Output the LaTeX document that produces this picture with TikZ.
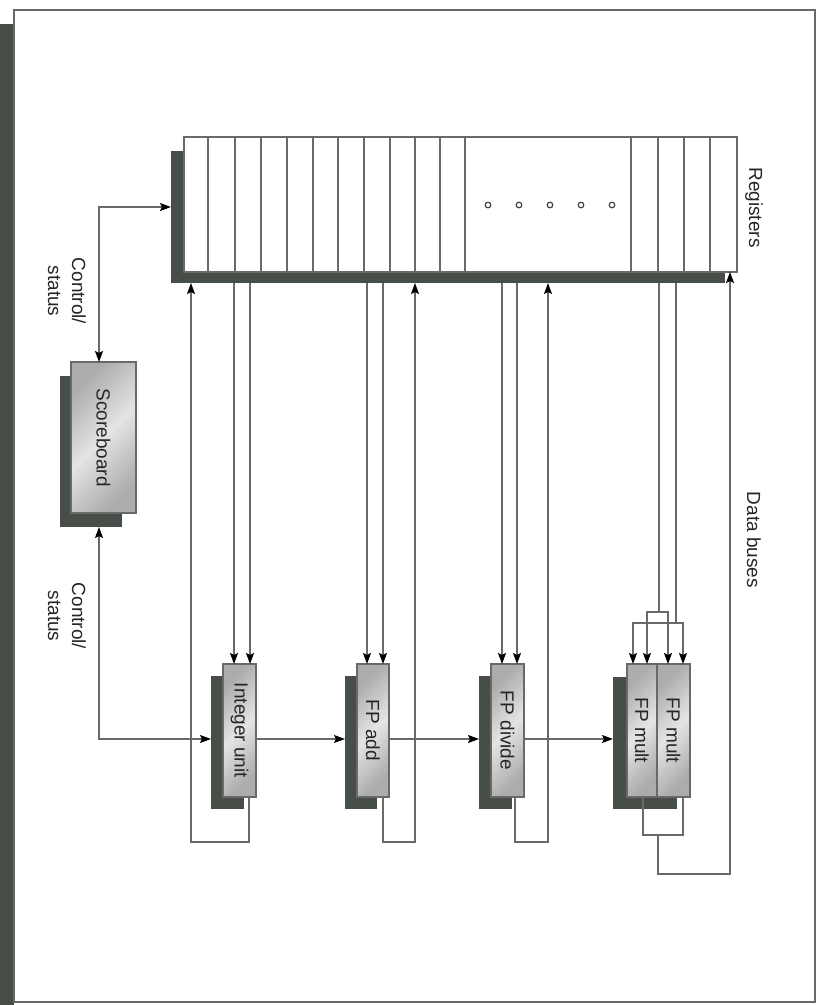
\documentclass[tikz,border=0pt]{standalone}
\usepackage{fontspec}
\setmainfont{Liberation Sans}
\usetikzlibrary{arrows.meta,calc}
\definecolor{shadowc}{RGB}{71,77,71}
\definecolor{linec}{RGB}{105,105,105}
\definecolor{boxdark}{RGB}{172,172,172}
\definecolor{boxlight}{RGB}{228,228,228}
\tikzset{
  ln/.style={draw=linec, line width=1.3pt},
  tipa/.tip={Stealth[length=11pt,width=8pt,inset=2pt,color=black]},
  arr/.style={ln, -tipa},
  arrb/.style={ln, tipa-tipa},
  unitbox/.style={draw=linec, line width=1.2pt, top color=boxdark, bottom color=boxdark,
    middle color=boxlight, shading angle=45, minimum height=133pt, inner sep=0pt, outer sep=0pt},
  shbox/.style={fill=shadowc, draw=none, inner sep=0pt, outer sep=0pt},
  vtext/.style={rotate=-90, font=\fontsize{19}{24}\selectfont, text=black!85, inner sep=0pt, align=center},
}
\begin{document}
\begin{tikzpicture}[x=1pt,y=-1pt]
\useasboundingbox (0,0) rectangle (819,1005);
% frame
\node[shbox, minimum width=14pt, minimum height=981pt] (framesh) at (7,514.5) {};
\node[draw=linec, line width=1.2pt, fill=white, minimum width=801pt, minimum height=992pt, inner sep=0pt] (frame) at (414.5,506) {};
% registers
\node[shbox, minimum width=554pt, minimum height=132pt] (regsh) at (448,217) {};
\node[draw=linec, line width=1.2pt, fill=white, minimum width=553pt, minimum height=135pt, inner sep=0pt, outer sep=0pt] (reg) at (460.5,204.5) {};
\foreach \x in {208,235,261,287,313,338,364,390,415,440,465,631,658,684,710}
  \draw[draw=linec, line width=1.1pt] (\x,137) -- (\x,272);
\foreach \x in {488,519,550,581,612}
  \draw[draw=black!75, line width=1.2pt] (\x,205) circle (2.8pt);
% scoreboard
\node[shbox, minimum width=62pt, minimum height=151pt] (sbsh) at (91,451.5) {};
\node[unitbox, minimum width=65pt, minimum height=151pt] (sb) at (103.5,437.5) {};
\node[vtext] (sbt) at (sb.center) {Scoreboard};
% units
\node[shbox, minimum width=33pt, minimum height=133pt] (iush) at (227.5,742.5) {};
\node[unitbox, minimum width=33pt] (iu) at (239.5,730.5) {};
\node[vtext] (iut) at (iu.center) {Integer unit};
\node[shbox, minimum width=32pt, minimum height=133pt] (fash) at (361,742.5) {};
\node[unitbox, minimum width=32pt] (fa) at (373,730.5) {};
\node[vtext] (fat) at (fa.center) {FP add};
\node[shbox, minimum width=33pt, minimum height=133pt] (fdsh) at (495.5,742.5) {};
\node[unitbox, minimum width=33pt] (fd) at (507.5,730.5) {};
\node[vtext] (fdt) at (fd.center) {FP divide};
\node[shbox, minimum width=64pt, minimum height=132pt] (fmsh) at (645,743) {};
\node[unitbox, minimum width=30pt] (fm1) at (642,730.5) {};
\node[unitbox, minimum width=33pt] (fm2) at (673.5,730.5) {};
\node[vtext] (fm1t) at (fm1.center) {FP mult};
\node[vtext] (fm2t) at (fm2.center) {FP mult};
% labels
\node[vtext] (lreg) at (754,207.5) {Registers};
\node[vtext] (lbus) at (754,540) {Data buses};
\node[vtext] (lcs1) at (67,291) {Control/\\status};
\node[vtext] (lcs2) at (67,616) {Control/\\status};
% control lines
\draw[arrb] ([xshift=-4.5pt]sb.north) |- ([yshift=10pt]regsh.west);
\draw[arrb] ([xshift=8pt]sbsh.south) |- ([yshift=3.5pt]iush.west);
\coordinate (cy) at (0,739);
\draw[arr] (iu.east |- cy) -- (fash.west |- cy);
\draw[arr] (fa.east |- cy) -- (fdsh.west |- cy);
\draw[arr] (fd.east |- cy) -- (fmsh.west |- cy);
% buses: integer unit
\coordinate (iuA) at ([xshift=11pt]iu.north west);
\coordinate (iuB) at ([xshift=27pt]iu.north west);
\draw[arr] (iuA |- regsh.south) -- (iuA);
\draw[arr] (iuB |- regsh.south) -- (iuB);
\coordinate (iuL) at (191,842);
\draw[arr] ([xshift=26pt]iu.south west) |- (iuL) -- (iuL |- regsh.south);
% FP add
\coordinate (faA) at ([xshift=10pt]fa.north west);
\coordinate (faB) at ([xshift=26pt]fa.north west);
\draw[arr] (faA |- regsh.south) -- (faA);
\draw[arr] (faB |- regsh.south) -- (faB);
\coordinate (faL) at (415,842);
\draw[arr] ([xshift=26pt]fa.south west) |- (faL) -- (faL |- regsh.south);
% FP divide
\coordinate (fdA) at ([xshift=11pt]fd.north west);
\coordinate (fdB) at ([xshift=26pt]fd.north west);
\draw[arr] (fdA |- regsh.south) -- (fdA);
\draw[arr] (fdB |- regsh.south) -- (fdB);
\coordinate (fdL) at (548,842);
\draw[arr] ([xshift=24pt]fd.south west) |- (fdL) -- (fdL |- regsh.south);
% FP mult
\coordinate (fmA) at (659,612);
\coordinate (fmB) at (676,623);
\draw[ln] (fmA |- regsh.south) -- (fmA);
\draw[arr] (fmA) -| ([xshift=20pt]fm1.north west);
\draw[arr] (fmA) -| ([xshift=11pt]fm2.north west);
\draw[ln] (fmB |- regsh.south) -- (fmB);
\draw[arr] (fmB) -| ([xshift=6pt]fm1.north west);
\draw[arr] (fmB) -| ([xshift=26pt]fm2.north west);
\coordinate (fmJ) at (658,835);
\draw[ln] ([xshift=16pt]fm1.south west) |- (fmJ) -| ([xshift=26pt]fm2.south west);
\coordinate (fmL) at (730,874);
\draw[arr] (fmJ) |- (fmL) -- (fmL |- reg.south);
\end{tikzpicture}
\end{document}
